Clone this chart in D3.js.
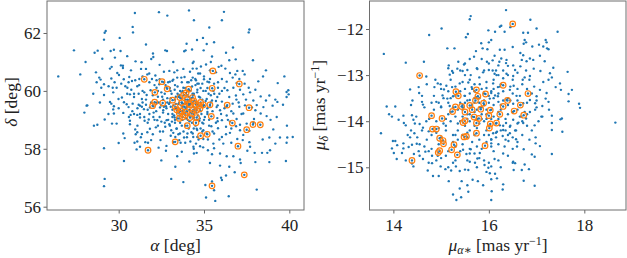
<!DOCTYPE html>
<html>
<head>
<meta charset="utf-8">
<script src="https://cdn.jsdelivr.net/npm/d3@7"></script>
<style>
  body { margin: 0; background: #fff; }
  text { font-family: "Liberation Serif", "DejaVu Serif", serif; fill: #222; }
</style>
</head>
<body>
<svg id="chart" width="627" height="258"></svg>
<script>
// sky positions (alpha, delta) of all stars, deg
const posField = [
  [26.46,60.50],
  [30.95,62.69],[32.36,62.72],[32.85,62.60],[34.12,62.78],[30.82,62.21],[30.84,62.02],[29.24,62.07],[29.18,62.01],[29.14,61.77],[30.06,61.83],
  [33.98,61.63],[27.38,61.40],[28.59,61.32],[28.77,61.39],[29.04,61.11],[29.53,61.38],[29.72,61.42],[30.11,61.38],[32.01,61.29],[32.03,61.17],
  [31.91,61.10],[32.73,61.40],[32.83,61.38],[33.84,61.37],[33.92,61.40],[28.06,61.00],[29.78,61.15],[29.59,60.83],[29.49,60.77],[30.13,60.88],
  [30.25,60.87],[30.25,60.79],[30.99,61.02],[31.34,60.99],[31.31,60.76],[30.72,60.71],[27.75,60.57],[28.67,60.64],[28.86,60.46],[28.94,60.39],
  [29.92,60.62],[30.02,60.55],[30.62,60.48],[30.78,60.34],[30.97,60.37],[31.21,60.41],[31.79,60.60],[32.15,60.53],[32.65,60.66],[32.97,60.69],
  [33.26,60.64],[33.43,60.71],[33.79,60.76],[34.18,60.66],[34.39,61.01],[34.57,60.77],[34.66,60.60],[31.60,60.76],[29.57,60.43],[29.76,60.30],
  [29.41,60.16],[29.65,60.11],[29.88,60.11],[30.15,60.25],[30.39,60.16],[30.58,60.30],[30.51,60.11],[30.74,60.04],[31.09,60.16],[28.71,60.30],
  [28.98,60.11],[29.14,60.23],[31.40,60.50],[31.68,60.57],[31.95,60.41],[32.22,60.37],[32.38,60.23],[32.65,60.30],[33.00,60.32],[33.20,60.39],
  [33.43,60.46],[33.67,60.46],[33.86,60.48],[34.02,60.30],[34.25,60.37],[34.49,60.41],[34.61,60.25],[28.51,59.90],[29.14,59.86],[29.68,59.95],
  [29.99,59.72],[30.19,59.77],[30.31,59.61],[28.12,59.49],[30.66,59.88],[30.90,59.79],[31.17,59.90],[31.36,59.72],[31.64,59.86],[31.87,60.02],
  [32.22,60.11],[32.50,59.95],[32.81,60.11],[33.04,60.00],[33.28,60.04],[33.55,59.86],[33.79,60.11],[34.10,60.02],[34.33,59.90],[29.72,59.47],
  [30.58,59.44],[30.82,59.56],[31.25,59.49],[31.48,59.37],
  [28.16,59.50],[27.99,59.25],[29.49,59.62],[29.57,59.56],[29.68,59.36],[29.72,59.22],[28.55,58.80],[28.75,58.83],[29.18,59.01],[29.61,58.87],
  [29.88,58.87],[30.27,59.24],[30.47,59.54],[30.70,59.17],[30.90,59.20],[31.09,59.17],[31.25,59.20],[31.17,59.52],[31.36,59.45],[31.60,59.52],
  [31.83,59.43],[32.03,59.47],[32.22,59.59],[32.42,59.43],[32.61,59.33],[32.77,59.47],[30.66,58.85],[30.97,58.67],[31.09,58.57],[31.36,58.51],
  [31.68,58.57],[31.83,58.69],[32.18,58.74],[32.42,58.60],[32.73,58.76],[32.97,58.85],[30.66,58.97],[30.27,58.53],[30.35,58.37],[31.25,59.08],
  [31.52,58.97],[31.76,59.01],[32.03,59.10],[32.26,58.99],[32.50,58.94],[32.81,58.99],[33.12,58.94],[33.28,59.08],[33.08,58.64],[33.39,58.69],
  [33.59,58.53],[33.32,58.41],[33.83,58.39],[34.03,58.53],[34.26,58.57],[34.37,58.41],[34.68,58.32],[34.53,58.18],[30.93,58.21],[31.09,58.25],
  [31.25,58.07],[31.56,58.23],[31.72,58.21],[31.05,57.98],[32.34,58.04],[32.77,57.93],[33.20,58.23],[33.63,58.21],[33.90,58.21],[33.43,57.74],
  [34.14,57.56],[34.57,57.86],[33.32,57.38],[29.14,58.02],[30.31,57.58],[29.18,56.96],[29.14,56.71],[33.08,56.96],[33.79,56.85],
  [36.17,62.73],[34.41,62.44],[36.05,62.44],[35.31,62.19],[37.66,62.12],[37.62,62.02],[34.94,61.83],[34.59,61.76],[35.59,61.68],[35.16,61.62],
  [34.98,61.40],[36.29,61.32],[35.47,61.19],[34.30,61.43],[36.86,61.09],[36.48,61.06],[34.34,60.96],[37.87,61.06],[36.02,60.87],[35.12,60.91],
  [34.82,60.84],[37.27,60.69],[36.95,60.69],[38.63,60.71],[37.38,60.57],[38.46,60.50],[39.71,60.50],[38.18,60.33],[39.32,60.27],[39.94,60.02],
  [39.84,59.96],[39.96,59.88],[39.84,59.79],[39.18,59.70],[38.63,59.67],[39.02,59.49],[39.30,59.62],[39.63,59.52],[34.34,60.77],[34.77,60.60],
  [35.00,60.50],[34.34,60.46],[34.53,60.37],[35.20,60.32],[35.35,60.41],[35.59,60.25],[35.82,60.30],[36.05,60.41],[36.33,60.32],[36.68,60.46],
  [36.91,60.27],[37.07,60.41],[37.38,60.25],[37.62,60.11],[37.11,60.04],[36.72,60.11],[36.37,60.02],[36.05,60.00],[35.82,60.11],[35.55,60.00],
  [35.27,59.90],[34.96,60.00],[34.61,60.04],[34.38,59.88],[34.77,59.77],[35.16,59.72],[35.47,59.67],[35.78,59.79],[36.05,59.63],[36.48,59.79],
  [36.87,59.84],[37.30,59.88],[37.70,59.95],[38.01,60.04],[38.32,59.81],[37.89,59.67],[37.46,59.70],[37.03,59.60],[36.68,59.56],[36.33,59.47],
  [35.74,59.44],[35.35,59.49],[34.96,59.44],[34.57,59.51],[38.48,59.44],[38.83,59.84],[38.09,59.51],[36.52,60.62],[36.84,60.57],[35.35,60.71],
  [35.70,60.64],[36.25,60.77],[35.86,60.83],[34.69,60.25],
  [38.32,59.22],[38.67,59.13],[37.93,59.03],[39.26,59.10],[39.86,58.80],[39.06,58.67],[38.83,58.39],[39.45,58.39],[39.88,58.39],[40.20,58.41],
  [38.44,58.32],[39.18,58.18],[38.87,57.95],[38.71,57.86],[39.84,58.21],[37.66,58.62],[37.30,58.48],[37.11,58.64],[36.88,58.78],[36.52,58.55],
  [36.29,58.50],[36.05,58.41],[36.95,58.34],[37.27,58.30],[36.60,58.21],[36.13,58.18],[35.55,58.18],[35.90,58.32],[35.23,58.32],[34.96,58.34],
  [34.61,58.41],[35.59,58.02],[35.23,57.95],[34.77,58.09],[34.38,58.07],[34.41,57.84],[35.47,57.81],[35.94,57.84],[35.35,57.51],[36.33,57.74],
  [36.72,57.74],[37.11,57.63],[37.54,57.93],[37.97,57.86],[38.40,57.86],[38.01,57.54],[38.83,57.54],[39.80,57.58],[37.66,58.23],[37.70,58.07],
  [37.15,57.51],[35.94,57.42],[36.48,57.38],[36.80,57.19],[36.29,57.08],[36.05,56.92],[35.47,56.87],[35.08,56.75],[35.59,56.57],[35.12,56.32],
  [35.66,56.20],[36.45,56.36],[38.09,56.59],[37.07,59.45],[36.72,59.22],[36.33,59.15],[35.94,59.33],[35.78,59.06],[36.05,58.99],[36.52,58.94],
  [36.91,59.03],[37.30,59.22],[37.50,58.87],[37.81,59.43],[38.01,59.33],[37.11,58.83],[36.29,58.76],[35.82,58.71],[35.43,58.78],[34.96,58.64],
  [34.57,58.69],[34.34,58.53],[35.16,58.53],[35.59,58.53],[34.73,58.97],[34.96,58.87],[34.41,59.08],[35.20,59.27],[34.38,59.45],[34.77,59.47],
  [33.10,59.90],[33.30,59.70],[33.50,59.80],[33.70,59.60],[33.90,59.70],[34.10,59.50],[34.30,59.60],[34.50,59.40],[33.60,59.30],[33.80,59.20],
  [34.00,59.30],[34.20,59.10],[34.40,59.20],[33.40,59.40],[33.20,59.50],[33.00,59.60],[32.80,59.40],[32.60,59.70],[32.90,59.20],[33.30,59.00],
  [33.60,58.90],[33.90,58.80],[34.30,58.90],[34.60,59.00],[34.80,59.30],[35.00,59.50],[35.20,59.20],[34.90,59.70],[34.70,59.80],[34.40,59.90],
  [34.20,60.00],[33.90,60.10],[33.60,60.00],[33.30,60.20],[33.00,60.10],[32.70,59.90],[32.50,59.50],[32.30,59.80],[32.20,59.30],[32.40,59.10],
  [32.70,58.90],[33.00,58.80],[33.40,58.70],[33.80,58.60],[34.10,58.70],[34.50,58.80],[34.90,58.90],[35.30,59.00],[35.50,59.30],[35.40,59.60],
  [35.60,59.90],[35.10,60.00],[34.80,60.10],[34.50,60.20],[34.10,60.30],[33.70,60.30],[33.50,59.55],[33.75,59.45],[33.95,59.55],[34.15,59.35],
  [34.35,59.45],[33.85,59.35],[34.05,59.65],[33.65,59.75],[34.25,59.75],[33.55,59.15],[33.95,59.05],[34.35,59.05],[33.45,59.25],[34.65,59.55],
  [34.55,59.25],[33.15,59.35],[33.05,59.75],[32.95,59.55],[33.35,59.55],[34.75,59.05],[34.15,58.95],[33.75,59.00],[33.25,59.15],[32.85,59.75],
  [34.45,59.65],[34.85,59.50],[35.05,59.10],[33.85,59.85],[34.35,59.85],[33.45,59.90],[33.15,59.20],[34.05,59.15],[33.65,59.50],[34.25,59.25],
  [33.95,59.40],[34.60,58.65],[33.50,58.50],[32.60,58.60],[32.10,59.00],[31.90,59.60],[31.80,59.20],[35.70,58.90],[35.80,59.50],[36.00,59.20],
  [35.90,59.90],[33.05,58.45],[34.00,58.40],[34.80,58.70],[32.45,58.30],[31.70,58.90],[31.50,59.10],[31.60,59.70],[32.10,60.20],[32.40,60.40],
  [32.90,60.30],[35.30,60.30],[35.00,60.40],[36.20,60.10],[31.40,60.00],[30.90,59.90],[30.80,59.30],[31.10,58.80],[31.30,58.40],[32.00,58.50],
  [33.70,57.90],[34.40,58.00],[32.80,58.10],[35.50,58.60],[36.40,59.00],[36.60,59.30],[36.90,59.70],[37.20,59.20],[33.60,59.35],[33.80,59.55],
  [34.10,59.80],[33.30,59.40],[34.40,59.35],[34.20,59.55],[33.90,59.25],[34.00,59.45],
  [31.20,60.20],[31.50,59.95],[31.80,60.30],[32.00,59.85],[32.30,60.00],[32.55,59.80],[32.75,60.20],[33.15,60.35],[33.45,60.15],[33.75,60.00],
  [34.30,60.15],[34.60,59.95],[34.90,60.25],[35.20,60.10],[35.40,59.85],[35.70,59.65],[35.20,59.40],[35.00,59.00],[35.30,58.80],[34.90,58.60],
  [34.40,58.70],[33.70,58.80],[33.30,58.90],[32.90,59.00],[32.60,59.25],[32.35,59.60],[32.05,59.25],[31.70,59.35],[31.40,59.60],[31.10,59.40],
  [30.50,59.90],[30.30,60.40],[30.00,59.40],[30.60,59.10],[31.00,58.50],[31.90,58.30],[32.30,58.80],[33.20,58.55],[33.55,58.30],[34.20,58.25],
  [34.95,58.05],[35.80,58.95],[36.20,59.40],[36.60,58.70],[37.40,59.50],[35.40,61.00],[33.20,61.00],[32.40,60.90],[30.50,61.20],[31.60,61.60],
  [36.70,61.50],[29.40,59.20],[28.90,59.60],[30.00,58.20],[32.50,57.60],[36.00,57.00],[37.90,58.90],[38.90,59.00],[33.05,59.45],[33.35,59.80],
  [33.55,59.60],[33.75,59.30],[33.95,59.60],[34.15,59.70],[34.35,59.30],[34.55,59.60],[34.05,59.00],[33.45,59.05],[33.15,59.10],[34.65,59.15],
  [34.85,59.20],[35.10,59.65],[33.70,59.95],[34.00,59.85],[32.85,59.60],[32.65,59.45]
];

// sky positions of the selected members, deg
const posMembers = [
  [31.50,60.40],[32.54,60.32],[35.52,60.69],[32.84,60.07],[34.10,60.06],[35.48,60.09],[37.07,60.24],[32.12,59.95],[32.11,59.61],[31.99,59.49],
  [32.58,59.58],[33.16,59.68],[33.59,59.77],[34.02,59.70],[34.33,59.77],[33.71,59.59],[33.32,59.45],[33.86,59.45],[34.18,59.52],[34.53,59.54],
  [34.96,59.52],[34.76,59.38],[34.37,59.33],[33.98,59.26],[33.55,59.24],[33.75,59.10],[34.18,59.08],[34.57,59.33],[35.35,59.52],[35.43,59.12],
  [34.57,59.08],[34.02,58.80],[34.53,58.90],[34.80,58.45],[35.19,58.50],[33.31,58.24],[36.36,59.51],[37.64,59.42],[36.66,58.89],[37.50,58.66],
  [37.87,58.84],[38.30,58.83],[36.99,58.09],[31.72,57.95],[37.36,57.10],[35.47,56.72],[33.40,59.35],[33.63,59.31],[33.90,59.17],[34.29,59.22],
  [34.10,59.56],[34.41,59.65],[34.72,59.49],[33.95,59.93],[33.80,59.85],[33.55,59.05],[34.80,59.60]
];

// proper motions (mu_alpha*, mu_delta) of all stars, mas/yr
const pmField = [
  [15.62,-11.72],[15.60,-11.79],[15.01,-11.99],[14.75,-12.13],[15.56,-12.11],[15.52,-12.18],[15.99,-12.03],[16.00,-12.29],[15.84,-12.31],[15.87,-12.42],
  [15.97,-12.44],[13.80,-12.54],[15.13,-12.42],[15.28,-12.42],[15.73,-12.48],[15.69,-12.60],[15.60,-12.65],[15.96,-12.71],[14.26,-12.73],[14.64,-12.71],
  [15.16,-12.79],[15.36,-12.71],[15.48,-12.77],[15.34,-12.86],[15.23,-12.91],[15.18,-12.99],[15.45,-12.91],[15.55,-12.89],[15.62,-13.00],[15.76,-12.87],
  [15.88,-12.94],[16.00,-12.89],[16.12,-12.97],[16.22,-12.71],[14.69,-13.03],[14.88,-13.10],[14.93,-13.18],[14.99,-13.20],[14.35,-13.31],[14.53,-13.26],
  [14.54,-13.39],[14.86,-13.26],[15.06,-13.31],[15.11,-13.23],[15.23,-13.26],[15.39,-13.18],[15.57,-13.16],[15.64,-13.26],[15.81,-13.20],[15.95,-13.28],
  [16.19,-13.26],[15.03,-13.44],[15.13,-13.51],[15.25,-13.46],[15.49,-13.45],[15.60,-13.54],[15.73,-13.48],[16.02,-13.51],[16.13,-13.44],[16.20,-13.58],
  [13.86,-13.68],[14.04,-13.68],[14.37,-13.65],[14.60,-13.58],[14.62,-13.64],[14.90,-13.58],[15.00,-13.68],[15.18,-13.67],[15.46,-13.70],[15.81,-13.70],
  [13.74,-14.26],[14.22,-14.04],[14.26,-14.09],[14.37,-14.20],[14.44,-14.26],[14.35,-14.35],[14.55,-14.06],[14.62,-14.14],[14.69,-14.00],[14.74,-14.22],
  [13.99,-14.43],[14.04,-14.43],[14.08,-14.52],[14.21,-14.48],[14.21,-14.59],[14.18,-14.69],[13.97,-14.59],[14.01,-14.69],[14.07,-14.82],[14.26,-14.85],
  [14.32,-14.56],[14.39,-14.51],[14.49,-14.49],[14.43,-14.71],[14.53,-14.65],[14.55,-14.75],[14.67,-14.66],[14.74,-14.65],[14.62,-14.82],[14.81,-14.75],
  [14.74,-14.90],[14.81,-14.91],[14.93,-14.75],[14.72,-15.07],[14.83,-15.19],[14.95,-15.19],[14.99,-14.98],[15.09,-15.04],[15.21,-15.07],[15.31,-14.98],
  [15.39,-15.08],[15.57,-15.06],[15.60,-14.88],[15.71,-14.90],[15.76,-14.81],[15.53,-14.71],[15.46,-14.62],[15.62,-14.61],[15.81,-14.69],[15.91,-14.95],
  [15.99,-15.01],[16.02,-15.13],[16.13,-15.14],[16.17,-15.24],[16.05,-15.26],[15.16,-15.30],[15.43,-15.30],[15.55,-15.39],[15.39,-15.46],[15.57,-15.53],
  [15.32,-15.71],[15.42,-15.65],[15.25,-15.59],[15.88,-15.39],[15.66,-15.27],[15.77,-15.30],[14.39,-14.92],[14.42,-14.98],[13.91,-13.85],[13.97,-13.90],
  [14.21,-13.88],[14.39,-13.87],[14.48,-13.90],[14.42,-13.97],[14.11,-13.97],
  [16.36,-11.59],[16.87,-11.80],[16.26,-11.93],[16.23,-11.95],[16.13,-12.06],[16.33,-12.06],[16.72,-12.08],[16.82,-12.08],[17.00,-11.99],[17.44,-12.06],
  [16.45,-11.96],[16.05,-12.24],[16.75,-12.24],[16.78,-12.29],[16.73,-12.32],[17.19,-12.24],[17.21,-12.29],[17.14,-12.38],[17.22,-12.42],[17.25,-12.44],
  [17.05,-12.34],[16.91,-12.38],[16.50,-12.39],[16.33,-12.45],[16.23,-12.45],[16.66,-12.52],[16.72,-12.57],[16.86,-12.64],[16.69,-12.67],[16.79,-12.70],
  [16.93,-12.67],[17.07,-12.58],[17.17,-12.70],[16.12,-12.58],[16.26,-12.64],[16.37,-12.67],[16.36,-12.74],[16.20,-12.79],[16.08,-12.68],[16.51,-12.79],
  [16.55,-12.89],[16.66,-12.81],[16.78,-12.90],[16.94,-12.86],[17.08,-12.91],[17.35,-12.84],[17.65,-12.93],[17.28,-12.96],[17.32,-13.05],[17.25,-13.10],
  [17.14,-13.15],[16.86,-13.02],[16.71,-13.10],[16.51,-13.02],[16.37,-12.97],[16.16,-13.00],[16.08,-12.90],[16.30,-13.07],[17.49,-13.18],[17.40,-13.26],
  [17.51,-13.32],[17.74,-13.32],[17.67,-13.41],[17.07,-13.32],[17.21,-13.39],[17.00,-13.46],[17.19,-13.51],[17.25,-13.58],[17.12,-13.67],[16.97,-13.61],
  [16.86,-13.54],[16.72,-13.61],[16.58,-13.45],[17.89,-13.62],[17.91,-13.71],[16.09,-13.18],[16.23,-13.25],[16.44,-13.32],[16.52,-13.23],[16.05,-13.39],
  [16.19,-13.46],[16.37,-13.54],[16.51,-13.62],
  [17.67,-13.57],[18.65,-14.03],[17.50,-13.96],[17.53,-13.94],[17.32,-13.88],[17.32,-14.04],[17.32,-14.19],[17.54,-14.23],[17.12,-13.90],[17.04,-14.00],
  [16.96,-14.09],[16.86,-13.80],[16.97,-13.75],[17.26,-13.75],[16.98,-14.35],[16.98,-14.48],[17.07,-14.54],[17.32,-14.71],[16.73,-14.61],[16.59,-14.55],
  [16.57,-14.39],[16.90,-14.72],[16.96,-14.77],[16.75,-14.94],[16.84,-15.04],[16.69,-15.06],[16.55,-14.91],[16.51,-14.88],[16.52,-15.06],[16.96,-15.40],
  [16.73,-15.29],[16.30,-15.37],[16.29,-15.48],[16.06,-15.52],[16.05,-15.71],[16.12,-14.82],[16.05,-14.98],[16.05,-14.48],[16.05,-14.39],[16.09,-14.26],
  [16.17,-14.23],[16.29,-14.32],[16.33,-14.55],[16.41,-14.43],[16.44,-14.26],[16.57,-14.20],[16.62,-14.03],[16.72,-14.04],[16.78,-13.94],[16.80,-13.85],
  [16.68,-13.90],[16.51,-13.97],[16.36,-14.04],[16.23,-14.09],[16.44,-14.12],[16.30,-14.19],[16.66,-13.65],
  [15.20,-13.50],[15.40,-13.60],[15.60,-13.40],[15.80,-13.50],[16.00,-13.60],[16.20,-13.40],[16.40,-13.50],[16.60,-13.30],[15.30,-13.90],[15.50,-14.10],
  [15.70,-13.80],[15.90,-14.00],[16.10,-13.90],[16.30,-14.10],[16.50,-13.80],[16.70,-14.00],[15.10,-14.20],[15.30,-14.30],[15.60,-14.20],[15.80,-14.40],
  [16.00,-14.30],[16.20,-14.50],[16.40,-14.30],[15.00,-13.70],[14.90,-14.00],[14.80,-14.30],[15.20,-13.10],[15.50,-13.00],[15.70,-13.20],[15.90,-12.90],
  [16.10,-13.10],[16.30,-12.90],[16.50,-13.10],[16.70,-13.20],[16.90,-13.40],[17.00,-13.70],[16.80,-13.60],[15.45,-13.75],[15.65,-13.65],[15.85,-13.70],
  [16.05,-13.75],[16.25,-13.65],[15.55,-13.85],[15.75,-13.95],[15.95,-13.85],[16.15,-14.05],[16.35,-13.95],[15.35,-14.05],[15.55,-14.25],[15.75,-14.15],
  [15.95,-14.20],[16.15,-14.25],[15.25,-14.45],[15.45,-14.50],[15.65,-14.45],[15.85,-14.60],[16.05,-14.55],[14.95,-14.50],[15.15,-14.65],[14.70,-14.40],
  [14.60,-14.20],[15.00,-13.30],[15.30,-13.25],[15.60,-13.10],[15.85,-13.30],[16.05,-13.35],[16.25,-13.20],[16.45,-13.25],[16.60,-13.55],[16.75,-13.80],
  [16.55,-14.20],[16.35,-14.40],[15.10,-13.95],[14.85,-13.75],[15.70,-13.60],[15.90,-13.55],[15.50,-13.45],[16.10,-13.50],[15.40,-13.35],[15.65,-13.30],
  [15.95,-13.15],[16.20,-13.00],[16.40,-12.80],[16.00,-12.75],[15.75,-12.85],[15.40,-12.90],[15.15,-12.85],[16.60,-12.95],[16.85,-13.10],[15.80,-14.80],
  [15.60,-14.70],[16.00,-14.90],[15.30,-14.85],[16.30,-14.70],[16.50,-14.60],[15.00,-14.80],[14.80,-14.60],[14.55,-14.50],[14.45,-14.05],[14.65,-13.70],
  [14.85,-13.45],[15.05,-13.50],[15.25,-13.70],[15.15,-13.85],[15.45,-13.90],[15.35,-14.20],[15.60,-14.00],[15.80,-14.05],[16.00,-14.10],[16.20,-13.80],
  [16.40,-13.65],[16.60,-13.75],[16.30,-13.55],[15.90,-13.40],[15.70,-13.35],[15.50,-13.60],[15.55,-13.55],[15.75,-13.75],[15.95,-13.95],[16.10,-13.65],
  [15.85,-13.85],[15.65,-13.90],[15.45,-14.30],[15.70,-14.30],[16.05,-14.40],[16.25,-14.20],[16.45,-14.10],[16.65,-13.45],[16.80,-13.30],[17.10,-13.90],
  [16.90,-14.20],[16.70,-14.30],[15.20,-14.00],[14.95,-14.15],[15.00,-14.35],[15.25,-14.30],[15.90,-14.30],[16.10,-14.65],[15.40,-14.65],[15.55,-14.85],
  [15.75,-15.00],[15.15,-15.00],[15.95,-15.10],[16.25,-15.00],[16.50,-14.90],
  [15.30,-13.45],[15.50,-13.30],[15.70,-13.50],[15.90,-13.65],[16.10,-13.30],[16.30,-13.35],[16.50,-13.40],[15.20,-13.80],[15.40,-14.00],[15.60,-13.85],
  [15.80,-13.60],[16.00,-13.45],[16.20,-13.95],[16.40,-13.85],[16.60,-14.05],[15.10,-14.10],[15.35,-14.40],[15.55,-14.35],[15.75,-14.55],[15.95,-14.45],
  [16.15,-14.35],[16.35,-14.20],[14.90,-14.25],[14.75,-13.95],[14.95,-13.60],[15.15,-13.35],[15.45,-13.15],[15.80,-13.05],[16.15,-12.90],[16.40,-13.00],
  [16.75,-13.05],[16.95,-13.25],[17.00,-13.55],[15.25,-12.95],[15.50,-12.75],[15.85,-12.65],[14.70,-13.20],[14.60,-13.45],[14.40,-13.55],[14.30,-14.30],
  [14.50,-14.35],[14.65,-14.55],[14.90,-14.85],[15.10,-14.75],[15.25,-14.90],[15.50,-15.05],[15.70,-14.70],[15.90,-14.85],[16.20,-14.85],[16.40,-14.75],
  [16.60,-14.45],[16.80,-14.10],[16.85,-14.40],[15.65,-13.70],[15.85,-13.95],[15.55,-13.95],[16.05,-13.95],[15.45,-13.65],[15.95,-13.75],[15.70,-14.10],
  [16.25,-13.75],[15.35,-13.75],[16.45,-13.55],[15.15,-13.60],[14.80,-13.60],[15.05,-14.05],[15.30,-14.55],[15.60,-14.60],[16.50,-14.35],[16.65,-13.90]
];

// proper motions of the selected members, mas/yr
const pmMembers = [
  [16.50,-11.89],[14.55,-13.01],[16.30,-13.22],[16.82,-13.40],[15.31,-13.36],[15.36,-13.45],[15.74,-13.32],[15.77,-13.46],[15.93,-13.41],[15.72,-13.55],
  [15.89,-13.61],[16.39,-13.55],[16.30,-13.68],[16.53,-13.78],[16.66,-13.65],[16.73,-13.87],[15.30,-13.69],[15.43,-13.68],[15.60,-13.66],[15.24,-13.79],
  [15.50,-13.80],[15.65,-13.75],[15.83,-13.74],[16.03,-13.76],[16.23,-13.85],[14.80,-13.88],[15.02,-13.94],[15.50,-13.99],[15.46,-14.03],[15.69,-13.91],
  [15.79,-13.94],[16.00,-13.88],[15.74,-14.04],[16.03,-14.06],[16.01,-14.15],[16.16,-14.04],[14.82,-14.17],[14.90,-14.17],[14.97,-14.37],[15.04,-14.42],
  [15.05,-14.49],[15.53,-14.33],[15.48,-14.34],[15.74,-14.26],[15.92,-14.53],[15.27,-14.51],[14.97,-14.64],[14.94,-14.68],[15.22,-14.62],[15.34,-14.73],
  [14.39,-14.85]
];

const posTicksX = [30, 35, 40];
const posTicksY = [56, 58, 60, 62];
const pmTicksX = [14, 16, 18];
const pmTicksY = [-15, -14, -13, -12];

const blue = '#1f77b4';
const orange = '#ff7f0e';
const svg = d3.select('#chart');
const fmt = d => d < 0 ? '\u2212' + Math.abs(d) : String(d);

function panel(box, xDom, yDom, xTicks, yTicks, field, members) {
  const x = d3.scaleLinear().domain(xDom).range([box.left, box.right]);
  const y = d3.scaleLinear().domain(yDom).range([box.bottom, box.top]);
  const g = svg.append('g');

  g.append('g')
    .attr('transform', `translate(0,${box.bottom})`)
    .call(d3.axisBottom(x).tickValues(xTicks).tickSize(3.5).tickPadding(5).tickFormat(fmt));
  g.append('g')
    .attr('transform', `translate(${box.left},0)`)
    .call(d3.axisLeft(y).tickValues(yTicks).tickSize(3.5).tickPadding(2.5).tickFormat(fmt));
  g.selectAll('.domain').remove();
  g.selectAll('.tick line').attr('stroke', '#555').attr('stroke-width', 0.9);
  g.selectAll('.tick text').attr('font-size', 17).attr('fill', '#222')
    .style('font-family', '"Liberation Serif", serif');

  // every star, members included
  g.append('g').selectAll('circle')
    .data(field.concat(members))
    .enter().append('circle')
      .attr('cx', d => x(d[0]))
      .attr('cy', d => y(d[1]))
      .attr('r', 1.2)
      .attr('fill', blue);

  // members: open orange rings
  g.append('g').selectAll('circle')
    .data(members)
    .enter().append('circle')
      .attr('cx', d => x(d[0]))
      .attr('cy', d => y(d[1]))
      .attr('r', 2.8)
      .attr('fill', 'none')
      .attr('stroke', orange)
      .attr('stroke-width', 1.2);

  g.append('rect')
    .attr('x', box.left).attr('y', box.top)
    .attr('width', box.right - box.left).attr('height', box.bottom - box.top)
    .attr('fill', 'none').attr('stroke', '#6e6e6e').attr('stroke-width', 1);
  return g;
}

const leftBox = {left: 47, right: 304, top: 1, bottom: 210};
const rightBox = {left: 369.5, right: 626, top: 1, bottom: 210};

panel(leftBox, [25.80, 40.86], [55.886, 63.105], posTicksX, posTicksY, posField, posMembers);
panel(rightBox, [13.50, 18.873], [-15.926, -11.393], pmTicksX, pmTicksY, pmField, pmMembers);

// axis labels
const lab = 17.5;
let t = svg.append('text').attr('x', 175.5).attr('y', 251).attr('text-anchor', 'middle').attr('font-size', lab);
t.append('tspan').attr('font-style', 'italic').text('\u03b1');
t.append('tspan').text(' [deg]');

t = svg.append('text').attr('transform', 'translate(17,102) rotate(-90)').attr('text-anchor', 'middle').attr('font-size', lab);
t.append('tspan').attr('font-style', 'italic').text('\u03b4');
t.append('tspan').text(' [deg]');

t = svg.append('text').attr('x', 498).attr('y', 251).attr('text-anchor', 'middle').attr('font-size', lab);
t.append('tspan').attr('font-style', 'italic').text('\u03bc');
t.append('tspan').attr('font-style', 'italic').attr('font-size', 12).attr('dy', 3).text('\u03b1\u2217');
t.append('tspan').attr('dy', -3).text(' [mas yr');
t.append('tspan').attr('font-size', 12).attr('dy', -6).text('\u22121');
t.append('tspan').attr('dy', 6).text(']');

t = svg.append('text').attr('transform', 'translate(325,105) rotate(-90)').attr('text-anchor', 'middle').attr('font-size', lab);
t.append('tspan').attr('font-style', 'italic').text('\u03bc');
t.append('tspan').attr('font-style', 'italic').attr('font-size', 12).attr('dy', 3).text('\u03b4');
t.append('tspan').attr('dy', -3).text(' [mas yr');
t.append('tspan').attr('font-size', 12).attr('dy', -6).text('\u22121');
t.append('tspan').attr('dy', 6).text(']');
</script>
</body>
</html>
